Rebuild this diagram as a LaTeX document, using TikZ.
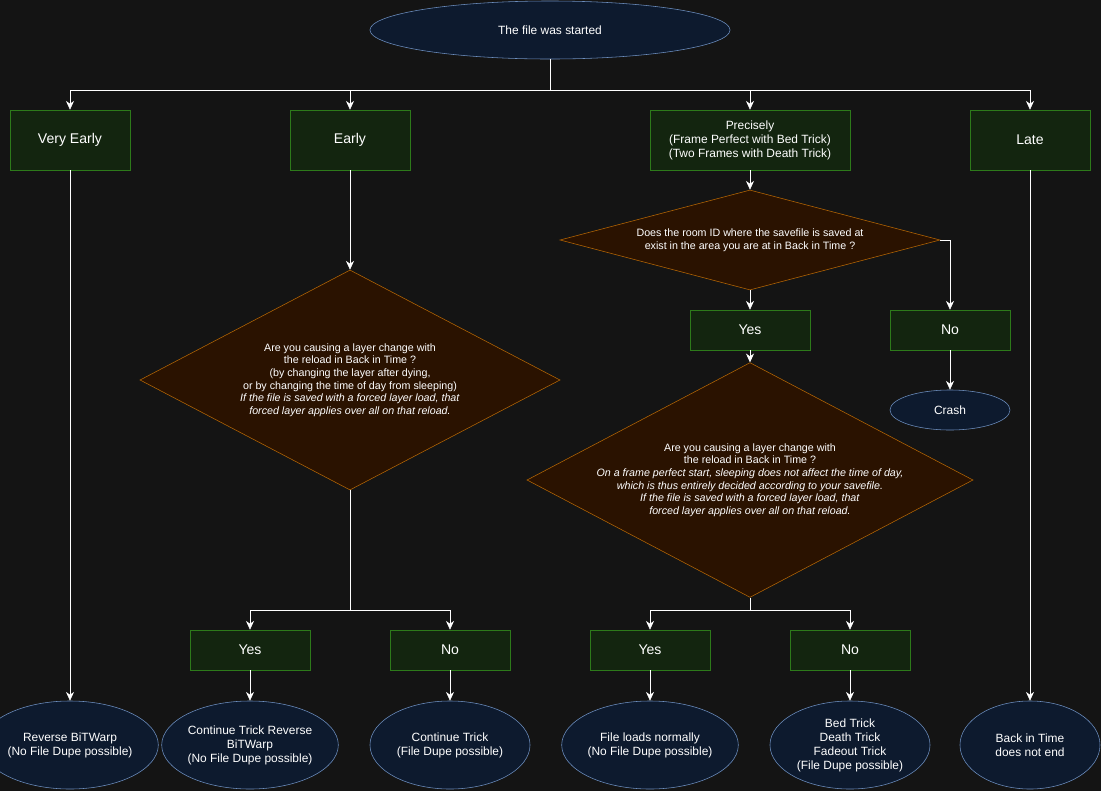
\documentclass[tikz,border=0pt]{standalone}
\usepackage{fontspec}
\setmainfont{Liberation Sans}
\usetikzlibrary{positioning,shapes.geometric,arrows.meta}
\definecolor{canvas}{RGB}{20,20,20}
\definecolor{termfill}{RGB}{13,26,46}
\definecolor{termline}{RGB}{108,142,191}
\definecolor{stepfill}{RGB}{19,37,15}
\definecolor{stepline}{RGB}{45,122,26}
\definecolor{askfill}{RGB}{42,18,0}
\definecolor{askline}{RGB}{180,101,4}
\tikzset{
  >={Stealth[length=2.2mm,width=2mm]},
  term/.style ={ellipse, draw=termline, fill=termfill, text=white, inner sep=0pt, align=center, font=\fontsize{8.5}{10}\selectfont},
  phase/.style={rectangle, draw=stepline, fill=stepfill, text=white, inner sep=0pt, align=center, font=\fontsize{8.5}{10}\selectfont},
  ask/.style  ={diamond, aspect=1.9, draw=askline, fill=askfill, text=white, inner sep=0pt, align=center, font=\fontsize{7.6}{9}\selectfont},
  flow/.style ={draw=white, ->},
}
\begin{document}
\begin{tikzpicture}[x=0.025cm, y=-0.025cm]
  \useasboundingbox (0,0) rectangle (1101,791);
  \clip (0,0) rectangle (1101,791);
  \fill[canvas] (0,0) rectangle (1101,791);

  % top
  \node[term, minimum width=9cm, minimum height=1.45cm] (start) at (550,30) {The file was started};
  \node[phase, minimum width=3cm, minimum height=1.5cm, font=\fontsize{10}{12}\selectfont] (vearly) at (70,140) {Very Early};
  \node[phase, minimum width=3cm, minimum height=1.5cm, font=\fontsize{10}{12}\selectfont] (early) at (350,140) {Early};
  \node[phase, minimum width=5cm, minimum height=1.5cm] (precise) at (750,140) {Precisely\\(Frame Perfect with Bed Trick)\\(Two Frames with Death Trick)};
  \node[phase, minimum width=3cm, minimum height=1.5cm, font=\fontsize{10}{12}\selectfont] (late) at (1030,140) {Late};
  \coordinate (split) at (550,90);
  \draw[draw=white] (start.south) -- (split);
  \foreach \b in {vearly,early,precise,late}
    \draw[flow] (split) -| (\b.north);

  % early branch
  \node[ask, minimum width=10.5cm, minimum height=5.5cm] (layerA) at (350,380)
    {Are you causing a layer change with\\the reload in Back in Time ?\\(by changing the layer after dying,\\or by changing the time of day from sleeping)\\\textit{If the file is saved with a forced layer load, that}\\\textit{forced layer applies over all on that reload.}};
  \node[phase, minimum width=3cm, minimum height=1cm, font=\fontsize{10}{12}\selectfont] (yesA) at (250,650) {Yes};
  \node[phase, minimum width=3cm, minimum height=1cm, font=\fontsize{10}{12}\selectfont] (noA) at (450,650) {No};
  \draw[flow] (early) -- (layerA.north);
  \coordinate (splitA) at (350,610);
  \draw[draw=white] (layerA.south) -- (splitA);
  \draw[flow] (splitA) -| (yesA.north);
  \draw[flow] (splitA) -| (noA.north);

  % precise branch
  \node[ask, minimum width=9.5cm, minimum height=2.5cm, aspect=3.8] (room) at (750,240)
    {Does the room ID where the savefile is saved at\\exist in the area you are at in Back in Time ?};
  \node[phase, minimum width=3cm, minimum height=1cm, font=\fontsize{10}{12}\selectfont] (yesR) at (750,330) {Yes};
  \node[phase, minimum width=3cm, minimum height=1cm, font=\fontsize{10}{12}\selectfont] (noR) at (950,330) {No};
  \node[term, minimum width=3cm, minimum height=1cm] (crash) at (950,410) {Crash};
  \draw[flow] (precise) -- (room.north);
  \draw[flow] (room.south) -- (yesR);
  \draw[flow] (room.east) -| (noR.north);
  \draw[flow] (noR) -- (crash);
  \node[ask, minimum width=10.5cm, minimum height=5.5cm] (layerB) at (750,480)
    {Are you causing a layer change with\\the reload in Back in Time ?\\\textit{On a frame perfect start, sleeping does not affect the time of day,}\\\textit{which is thus entirely decided according to your savefile.}\\\textit{If the file is saved with a forced layer load, that}\\\textit{forced layer applies over all on that reload.}};
  \draw[flow] (yesR) -- (layerB.north);
  \node[phase, minimum width=3cm, minimum height=1cm, font=\fontsize{10}{12}\selectfont] (yesB) at (650,650) {Yes};
  \node[phase, minimum width=3cm, minimum height=1cm, font=\fontsize{10}{12}\selectfont] (noB) at (850,650) {No};
  \coordinate (splitB) at (750,610);
  \draw[draw=white] (layerB.south) -- (splitB);
  \draw[flow] (splitB) -| (yesB.north);
  \draw[flow] (splitB) -| (noB.north);

  % outcomes
  \node[term, minimum width=3.5cm, minimum height=2.2cm] (reverse) at (70,745) {Reverse BiTWarp\\(No File Dupe possible)};
  \node[term, minimum width=4cm, minimum height=2.2cm] (contrev) at (250,745) {Continue Trick Reverse\\BiTWarp\\(No File Dupe possible)};
  \node[term, minimum width=4cm, minimum height=2.2cm] (cont) at (450,745) {Continue Trick\\(File Dupe possible)};
  \node[term, minimum width=4cm, minimum height=2.2cm] (normal) at (650,745) {File loads normally\\(No File Dupe possible)};
  \node[term, minimum width=4cm, minimum height=2.2cm] (tricks) at (850,745) {Bed Trick\\Death Trick\\Fadeout Trick\\(File Dupe possible)};
  \node[term, minimum width=3.5cm, minimum height=2.2cm] (noend) at (1030,745) {Back in Time\\does not end};
  \draw[flow] (vearly) -- (reverse);
  \draw[flow] (yesA) -- (contrev);
  \draw[flow] (noA) -- (cont);
  \draw[flow] (yesB) -- (normal);
  \draw[flow] (noB) -- (tricks);
  \draw[flow] (late) -- (noend);
\end{tikzpicture}
\end{document}
